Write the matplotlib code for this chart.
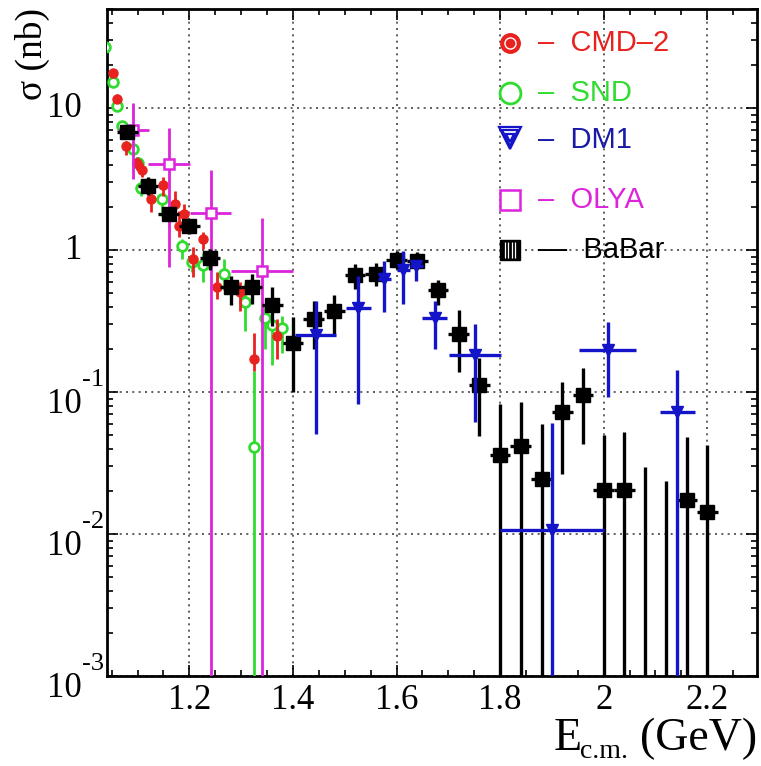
import numpy as np
import matplotlib

matplotlib.use("Agg")
import matplotlib.pyplot as plt
from matplotlib.ticker import FixedLocator, LogLocator, MultipleLocator, NullFormatter

# ---------------------------------------------------------------------------
# Data (E in GeV, sigma in nb; lo/hi = error-bar ends)
# ---------------------------------------------------------------------------

babar_x = [1.08, 1.12, 1.16, 1.20, 1.24, 1.28, 1.32, 1.36, 1.40, 1.44, 1.48, 1.52,
           1.56, 1.60, 1.64, 1.68, 1.72, 1.76, 1.80, 1.84, 1.88, 1.92, 1.96, 2.00,
           2.04, 2.08, 2.12, 2.16, 2.20]
babar_y = [6.8, 2.85, 1.80, 1.47, 0.88, 0.55, 0.55, 0.41, 0.222, 0.325, 0.37, 0.668,
           0.68, 0.855, 0.84, 0.52, 0.258, 0.112, 0.036, 0.042, 0.0244, 0.073, 0.095,
           0.0205, 0.0205, np.nan, np.nan, 0.0175, 0.0144]
babar_hi = [7.4, 3.3, 2.0, 1.65, 1.02, 0.66, 0.68, 0.55, 0.337, 0.44, 0.48, 0.80,
            0.81, 0.99, 0.97, 0.62, 0.376, 0.174, 0.082, 0.0855, 0.060, 0.118, 0.147,
            0.050, 0.052, 0.0296, 0.0237, 0.048, 0.0425]
babar_lo = [6.2, 2.45, 1.6, 1.29, 0.72, 0.41, 0.42, 0.29, 0.10, 0.202, 0.254, 0.533,
            0.56, 0.736, 0.74, 0.41, 0.139, 0.049, 0, 0, 0, 0.0266, 0.043,
            0, 0, 0, 0, 0, 0]
babar_dx = 0.02

dm1_x = [1.444, 1.526, 1.576, 1.613, 1.638, 1.674, 1.751, 1.900, 2.008, 2.142]
dm1_dx = [0.04, 0.024, 0.0125, 0.0125, 0.0125, 0.024, 0.05, 0.10, 0.055, 0.034]
dm1_y = [0.251, 0.392, 0.627, 0.728, 0.776, 0.332, 0.184, 0.0106, 0.197, 0.072]
dm1_hi = [0.44, 0.66, 0.84, 0.99, 0.84, 0.44, 0.30, 0.061, 0.31, 0.143]
dm1_lo = [0.051, 0.083, 0.366, 0.418, 0.61, 0.20, 0.062, 0, 0.093, 0]

olya_x = [1.092, 1.161, 1.241, 1.341]
olya_dx = [0.03, 0.04, 0.04, 0.06]
olya_y = [7.05, 4.05, 1.84, 0.716]
olya_hi = [10.8, 7.3, 3.7, 1.69]
olya_lo = [3.15, 0.756, 0, 0]

cmd2_x = [1.052, 1.060, 1.078, 1.099, 1.108, 1.126, 1.149, 1.173, 1.180, 1.190,
          1.207, 1.227, 1.253, 1.297, 1.325, 1.370]
cmd2_y = [17.8, 11.7, 5.38, 4.1, 3.7, 2.3, 2.9, 2.1, 1.48, 1.79,
          0.865, 1.19, 0.55, 0.505, 0.172, 0.249]
cmd2_hi = [18.8, 12.6, 5.9, 4.5, 4.1, 2.67, 3.3, 2.6, 1.89, 2.1,
           1.05, 1.34, 0.70, 0.60, 0.26, 0.33]
cmd2_lo = [16.8, 10.8, 4.7, 3.7, 3.3, 1.85, 2.4, 1.65, 1.23, 1.48,
           0.65, 1.02, 0.45, 0.37, 0.14, 0.17]

snd_x = [1.038, 1.052, 1.060, 1.070, 1.091, 1.101, 1.107, 1.147, 1.186, 1.205,
         1.226, 1.266, 1.307, 1.325, 1.346, 1.360, 1.378]
snd_y = [27.0, 15.4, 10.3, 7.45, 5.16, 4.1, 2.75, 2.28, 1.07, 0.82,
         0.785, 0.68, 0.434, 0.041, 0.335, 0.295, 0.285]
snd_hi = [29.0, 16.4, 11.0, 8.0, 5.6, 4.5, 3.1, 2.46, 1.19, 0.94,
          0.95, 0.86, 0.59, 0.14, 0.40, 0.36, 0.345]
snd_lo = [25.0, 14.4, 9.6, 6.9, 4.7, 3.7, 2.4, 1.74, 0.865, 0.70,
          0.60, 0.52, 0.27, 0, 0.20, 0.154, 0.19]

x_ticks = [1.2, 1.4, 1.6, 1.8, 2.0, 2.2]
x_ticklabels = ["1.2", "1.4", "1.6", "1.8", "2", "2.2"]
y_ticks = [10, 1, 0.1, 0.01, 0.001]
y_bases = ["10", "1", "10", "10", "10"]
y_exps = ["", "", "-1", "-2", "-3"]

legend_names = ["CMD\u20132", "SND", "DM1", "OLYA", "BaBar"]

RED = "#e8221e"
GREEN = "#30dc30"
BLUE = "#1414c8"
MAGENTA = "#dc24dc"
BLACK = "#000000"

plt.rcParams["font.family"] = ["Liberation Serif", "DejaVu Serif"]
plt.rcParams["mathtext.fontset"] = "stix"


def _yerr(y, lo, hi):
    y = np.asarray(y, float)
    lo = np.clip(np.asarray(lo, float), 1e-6, None)
    return [y - lo, np.asarray(hi, float) - y]


fig = plt.figure(figsize=(7.61, 7.66), dpi=100)
ax = fig.add_axes([107 / 761, 1 - 676 / 766, 650 / 761, 667 / 766])
ax.set_yscale("log")
ax.set_xlim(1.041, 2.296)
ax.set_ylim(1e-3, 50)
ax.set_axisbelow(True)
ax.grid(True, which="major", linestyle=(0, (1.2, 2.6)), color="#444444", lw=1.2)

# ── data series ────────────────────────────────────────────────────────────
ax.errorbar(snd_x, snd_y, yerr=_yerr(snd_y, snd_lo, snd_hi), fmt="o", ms=7,
            mfc="white", mec=GREEN, mew=2, ecolor=GREEN, elinewidth=2.0,
            capsize=0, zorder=3)
ax.errorbar(cmd2_x, cmd2_y, yerr=_yerr(cmd2_y, cmd2_lo, cmd2_hi), fmt="o", ms=6.5,
            color=RED, ecolor=RED, elinewidth=2.0, capsize=0, zorder=4)
ax.errorbar(olya_x, olya_y, xerr=olya_dx, yerr=_yerr(olya_y, olya_lo, olya_hi),
            fmt="s", ms=7.5, mfc="white", mec=MAGENTA, mew=1.8, ecolor=MAGENTA,
            elinewidth=2.0, capsize=0, zorder=5)

bx = np.asarray(babar_x)
by = np.asarray(babar_y, float)
has_pt = ~np.isnan(by)
ax.errorbar(bx[has_pt], by[has_pt], xerr=babar_dx,
            yerr=_yerr(by[has_pt], np.asarray(babar_lo)[has_pt], np.asarray(babar_hi)[has_pt]),
            fmt="s", ms=9.5, color=BLACK, ecolor=BLACK, elinewidth=2.4, capsize=0, zorder=6)
ax.vlines(bx[~has_pt], 1e-6, np.asarray(babar_hi)[~has_pt], color=BLACK, lw=2.4, zorder=6)

ax.errorbar(dm1_x, dm1_y, xerr=dm1_dx, yerr=_yerr(dm1_y, dm1_lo, dm1_hi), fmt="v",
            ms=9, color=BLUE, ecolor=BLUE, elinewidth=2.4, capsize=0, zorder=7)

# ── axes styling ───────────────────────────────────────────────────────────
ax.xaxis.set_major_locator(FixedLocator(x_ticks))
ax.xaxis.set_minor_locator(MultipleLocator(0.05))
ax.set_xticklabels(x_ticklabels, fontsize=25)
ax.yaxis.set_major_locator(FixedLocator(y_ticks))
ax.yaxis.set_minor_locator(LogLocator(base=10, subs=np.arange(2, 10)))
ax.yaxis.set_major_formatter(NullFormatter())
ax.yaxis.set_minor_formatter(NullFormatter())
ax.tick_params(which="both", direction="in", top=True, right=True, width=1.2)
ax.tick_params(which="major", length=8)
ax.tick_params(which="minor", length=4.5)
ax.tick_params(axis="x", which="major", pad=6)
for sp in ax.spines.values():
    sp.set_linewidth(2.0)

ytrans = ax.get_yaxis_transform()
for val, base, expo in zip(y_ticks, y_bases, y_exps):
    if expo:
        ax.annotate(base, (0, val), xycoords=ytrans, xytext=(-18, -9),
                    textcoords="offset points", ha="right", va="center",
                    fontsize=25, annotation_clip=False)
        ax.annotate(expo, (0, val), xycoords=ytrans, xytext=(-2, 9),
                    textcoords="offset points", ha="right", va="center",
                    fontsize=19, annotation_clip=False)
    else:
        ax.annotate(base, (0, val), xycoords=ytrans, xytext=(-18, 0),
                    textcoords="offset points", ha="right", va="center",
                    fontsize=25, annotation_clip=False)

fig.text(0.042, 0.99, "\u03c3 (nb)", rotation=90, ha="center", va="top", fontsize=27)

# x-axis title: E with "c.m." subscript, then "(GeV)", right-aligned at the frame edge
base_y = 1 - 750 / 766
fig.text(757 / 761, base_y, "(GeV)", ha="right", va="baseline", fontsize=33)
fig.text(628 / 761, 1 - 758 / 766, "c.m.", ha="right", va="baseline", fontsize=20)
fig.text(582 / 761, base_y, "E", ha="right", va="baseline", fontsize=33)

# ── hand-drawn legend ─────────────────────────────────────────────────────
leg_rows = [0.949, 0.874, 0.804, 0.714, 0.639]
leg_colors = [RED, GREEN, "#1a1aa8", MAGENTA, BLACK]
mx, tx = 0.62, 0.663
kw = dict(transform=ax.transAxes, clip_on=False, zorder=10)
ax.plot(mx, leg_rows[0], "o", ms=14, color=RED, **kw)
ax.plot(mx, leg_rows[0], "o", ms=8, mfc="none", mec="white", mew=1.0, **kw)
ax.plot(mx, leg_rows[1], "o", ms=15, mfc="white", mec=GREEN, mew=2, **kw)
for s in (16, 11, 6):
    ax.plot(mx, leg_rows[2] + 0.002, "v", ms=s, mfc="none", mec=BLUE, mew=1.6, **kw)
ax.plot(mx, leg_rows[3], "s", ms=15, mfc="white", mec=MAGENTA, mew=1.8, **kw)
ax.plot(mx, leg_rows[4], "s", ms=14, color=BLACK, **kw)
for dx in (-0.007, -0.0025, 0.0025, 0.007):
    ax.plot(mx + dx, leg_rows[4], "|", ms=11, mec="white", mew=0.9, **kw)
for y, name, col in zip(leg_rows, legend_names, leg_colors):
    dash = "\u2014" if name == "BaBar" else "\u2013"
    ax.text(tx, y, f"{dash}  {name}", color=col, fontsize=21, va="center", ha="left",
            family=["Liberation Sans", "DejaVu Sans"], transform=ax.transAxes, zorder=10)

fig.savefig("out.png", dpi=100)
